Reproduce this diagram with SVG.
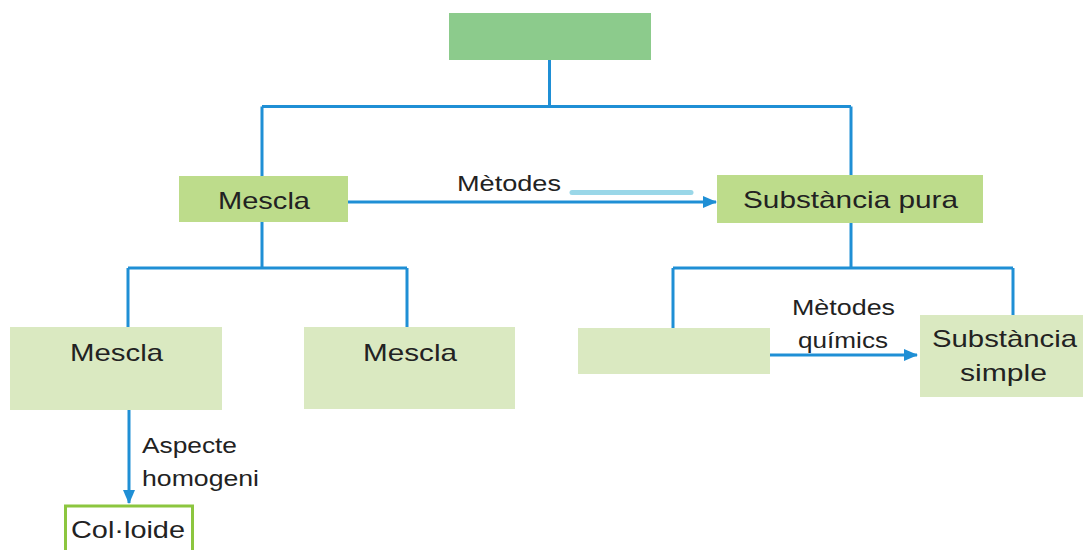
<svg xmlns="http://www.w3.org/2000/svg" width="1083" height="550" viewBox="0 0 1083 550">
<defs>
<style>
.ln{fill:none;stroke:#1f8fd5;stroke-width:3}
.t{font-family:"Liberation Sans",Arial,sans-serif;font-size:24px;fill:#222}
.s{font-family:"Liberation Sans",Arial,sans-serif;font-size:22px;fill:#222}
.l1{fill:#dae9c1}
.l2{fill:#bddc8b}
</style>
<marker id="ar" markerWidth="14" markerHeight="12" refX="13" refY="6" orient="auto" markerUnits="userSpaceOnUse">
<path d="M0,0 L14,6 L0,12 Z" fill="#1f8fd5"/>
</marker>
</defs>
<rect width="1083" height="550" fill="#fff"/>
<g id="connectors">
<path class="ln" d="M549.5,60 V106.5 M262,106.5 H851 M262,106.5 V176 M851,106.5 V175"/>
<path class="ln" d="M262,222 V268 M128,268 H407 M128,268 V327 M407,268 V327"/>
<path class="ln" d="M851,223 V268 M673,268 H1013 M673,268 V328 M1013,268 V315"/>
<path class="ln" d="M348,202 H716" marker-end="url(#ar)"/>
<path class="ln" d="M770,355 H917" marker-end="url(#ar)"/>
<path class="ln" d="M129,410 V503" marker-end="url(#ar)"/>
<path d="M572,192.5 H691" stroke="#9ad7e8" stroke-width="5" stroke-linecap="round"/>
<text class="s" x="457" y="191" textLength="104" lengthAdjust="spacingAndGlyphs">Mètodes</text>
<text class="s" x="792" y="315" textLength="103" lengthAdjust="spacingAndGlyphs">Mètodes</text>
<text class="s" x="798" y="348" textLength="90" lengthAdjust="spacingAndGlyphs">químics</text>
<text class="s" x="142" y="453" textLength="95" lengthAdjust="spacingAndGlyphs">Aspecte</text>
<text class="s" x="142" y="486" textLength="117" lengthAdjust="spacingAndGlyphs">homogeni</text>
</g>
<g id="top"><rect x="449" y="13" width="202" height="47" fill="#8ccb8c"/></g>
<g id="mescla"><rect class="l2" x="179" y="176" width="169" height="46"/>
<text class="t" x="218" y="209" textLength="92" lengthAdjust="spacingAndGlyphs">Mescla</text></g>
<g id="pura"><rect class="l2" x="717" y="175" width="266" height="48"/>
<text class="t" x="743" y="208" textLength="215" lengthAdjust="spacingAndGlyphs">Substància pura</text></g>
<g id="mescla-l"><rect class="l1" x="10" y="327" width="212" height="83"/>
<text class="t" x="70" y="361" textLength="93" lengthAdjust="spacingAndGlyphs">Mescla</text></g>
<g id="mescla-r"><rect class="l1" x="304" y="327" width="211" height="82"/>
<text class="t" x="363" y="361" textLength="94" lengthAdjust="spacingAndGlyphs">Mescla</text></g>
<g id="compost"><rect class="l1" x="578" y="328" width="192" height="46"/></g>
<g id="simple"><rect class="l1" x="920" y="315" width="163" height="82"/>
<text class="t" x="932" y="347" textLength="145" lengthAdjust="spacingAndGlyphs">Substància</text>
<text class="t" x="960" y="381" textLength="87" lengthAdjust="spacingAndGlyphs">simple</text></g>
<g id="colloide"><rect x="65.5" y="506" width="127" height="50" fill="#fff" stroke="#8cc63f" stroke-width="3"/>
<text class="t" x="71" y="538" textLength="114" lengthAdjust="spacingAndGlyphs">Col·loide</text></g>
</svg>
